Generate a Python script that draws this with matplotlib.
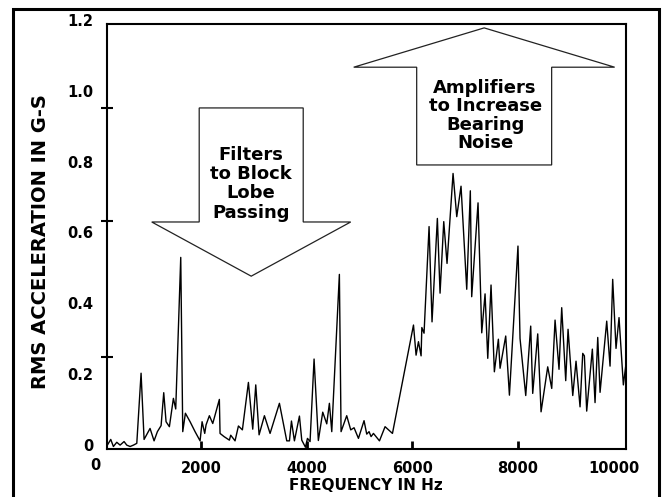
import matplotlib
matplotlib.use("Agg")
import matplotlib.pyplot as plt
from matplotlib.patches import Polygon, Rectangle
from matplotlib.transforms import ScaledTranslation

plt.rcParams["font.family"] = ["DejaVu Sans"]
plt.rcParams["font.weight"] = "bold"

# spectrum (Hz, g rms)
FREQ_HZ = [
    227, 291, 341, 405, 468, 543, 594, 657, 721, 784, 865, 922, 1035, 1111,
    1174, 1244, 1294, 1338, 1401, 1477, 1521, 1616, 1654, 1704, 1793, 1887,
    1982, 2020, 2070, 2095, 2158, 2222, 2347, 2360, 2436, 2537, 2562, 2644,
    2708, 2783, 2897, 2979, 3036, 3099, 3200, 3307, 3484, 3623, 3674, 3712,
    3768, 3863, 3907, 3977, 4015, 4064, 4140, 4221, 4304, 4380, 4430, 4475,
    4619, 4651, 4758, 4834, 4897, 4980, 5086, 5137, 5181, 5219, 5264, 5378,
    5484, 5624, 6022, 6071, 6116, 6166, 6180, 6222, 6317, 6373, 6474, 6525,
    6595, 6657, 6771, 6841, 6922, 7030, 7098, 7124, 7244, 7314, 7377, 7428,
    7490, 7553, 7629, 7661, 7768, 7838, 8000, 8039, 8147, 8241, 8279, 8374,
    8437, 8563, 8639, 8702, 8777, 8828, 8904, 8948, 9037, 9099, 9175, 9226,
    9257, 9301, 9408, 9459, 9510, 9554, 9680, 9743, 9793, 9856, 9913, 9995,
    10058,
]
RMS_G = [
    0.011, 0.027, 0.007, 0.019, 0.011, 0.021, 0.011, 0.007, 0.011, 0.016,
    0.214, 0.027, 0.058, 0.023, 0.049, 0.066, 0.159, 0.077, 0.063, 0.143,
    0.113, 0.541, 0.049, 0.101, 0.077, 0.049, 0.023, 0.077, 0.044, 0.068,
    0.094, 0.072, 0.140, 0.044, 0.035, 0.025, 0.039, 0.023, 0.065, 0.054,
    0.188, 0.056, 0.181, 0.040, 0.094, 0.044, 0.129, 0.023, 0.023, 0.079,
    0.023, 0.093, 0.025, 0.005, 0.030, 0.021, 0.254, 0.024, 0.104, 0.071,
    0.129, 0.049, 0.493, 0.049, 0.094, 0.054, 0.060, 0.030, 0.080, 0.042,
    0.049, 0.035, 0.044, 0.023, 0.063, 0.044, 0.350, 0.265, 0.303, 0.263,
    0.343, 0.327, 0.628, 0.359, 0.651, 0.440, 0.642, 0.524, 0.778, 0.656,
    0.742, 0.451, 0.729, 0.430, 0.695, 0.328, 0.438, 0.256, 0.463, 0.218,
    0.310, 0.228, 0.319, 0.152, 0.573, 0.312, 0.151, 0.347, 0.157, 0.325,
    0.105, 0.232, 0.171, 0.364, 0.225, 0.399, 0.193, 0.338, 0.151, 0.248,
    0.119, 0.270, 0.263, 0.107, 0.282, 0.131, 0.315, 0.160, 0.361, 0.234,
    0.479, 0.284, 0.371, 0.181, 0.256,
]

X_TICKS = [2000, 4000, 6000, 8000, 10000]
Y_TICKS = [0, 0.2, 0.4, 0.6, 0.8, 1.0, 1.2]
Y_TICK_LABELS = ["0", "0.2", "0.4", "0.6", "0.8", "1.0", "1.2"]
Y_MARKS = [0.26, 0.644, 0.963]

FILTER_TEXT = "Filters\nto Block\nLobe\nPassing"
AMP_TEXT = "Amplifiers\nto Increase\nBearing\nNoise"


def block_arrow(cx, shaft_w, head_w, tail_y, base_y, tip_y):
    s = shaft_w / 2
    h = head_w / 2
    return [
        (cx - s, tail_y), (cx + s, tail_y), (cx + s, base_y),
        (cx + h, base_y), (cx, tip_y), (cx - h, base_y), (cx - s, base_y),
    ]


W, H = 662, 497
fig = plt.figure(figsize=(W / 100, H / 100), dpi=100)
ax = fig.add_axes([107 / W, 1 - 449 / H, (626 - 107) / W, (449 - 24) / H])

ax.plot(FREQ_HZ, RMS_G, color="black", lw=1.0, zorder=2)
ax.set_xlim(220, 10045)
ax.set_ylim(0, 1.2)

for spine in ax.spines.values():
    spine.set_linewidth(1.5)

ax.set_xticks(X_TICKS)
ax.set_xticklabels([str(t) for t in X_TICKS])
ax.tick_params(axis="x", direction="in", length=6, width=2, pad=8.5, labelsize=10.5)
ax.xaxis.get_major_ticks()[-1].tick1line.set_visible(False)
# last label is printed a bit inside the frame
last = ax.get_xticklabels()[-1]
last.set_transform(last.get_transform() + ScaledTranslation(-10 / 100, 0, fig.dpi_scale_trans))
ax.text(0, -0.04, "0", transform=ax.get_xaxis_transform(), ha="center", va="center",
        fontsize=10.5, clip_on=False)

ax.set_yticks(Y_TICKS)
ax.set_yticklabels(Y_TICK_LABELS)
ax.set_yticks(Y_MARKS, minor=True)
ax.tick_params(axis="y", which="major", length=0, pad=10, labelsize=10.5)
ax.tick_params(axis="y", which="minor", direction="inout", length=9, width=1.5)
# the printed labels sit a little above their gridline
lift = ScaledTranslation(0, 4 / 100, fig.dpi_scale_trans)
for lab in ax.get_yticklabels():
    lab.set_transform(lab.get_transform() + lift)

down = Polygon(block_arrow(2950, 1969, 3767, 0.963, 0.641, 0.488), closed=True,
               facecolor="white", edgecolor="#222222", lw=0.9, zorder=3)
up = Polygon(block_arrow(7360, 2555, 4940, 0.802, 1.078, 1.189), closed=True,
             facecolor="white", edgecolor="#222222", lw=0.9, zorder=3)
ax.add_patch(down)
ax.add_patch(up)
ax.text(2950, 0.749, FILTER_TEXT, ha="center", va="center", fontsize=13,
        linespacing=1.1, zorder=4)
ax.text(7377, 0.942, AMP_TEXT, ha="center", va="center", fontsize=13,
        linespacing=1.03, zorder=4)

fig.text(366 / W, 1 - 486 / H, "FREQUENCY IN Hz", ha="center", va="center", fontsize=11)
fig.text(41 / W, 1 - 242 / H, "RMS ACCELERATION IN G-S", ha="center", va="center",
         rotation=90, fontsize=14)

fig.add_artist(Rectangle((13 / W, -0.05), (659 - 13) / W, 1.05 - 9 / H,
                         transform=fig.transFigure, fill=False, lw=2.2,
                         edgecolor="black", clip_on=False))

fig.savefig("out.png", dpi=100)
